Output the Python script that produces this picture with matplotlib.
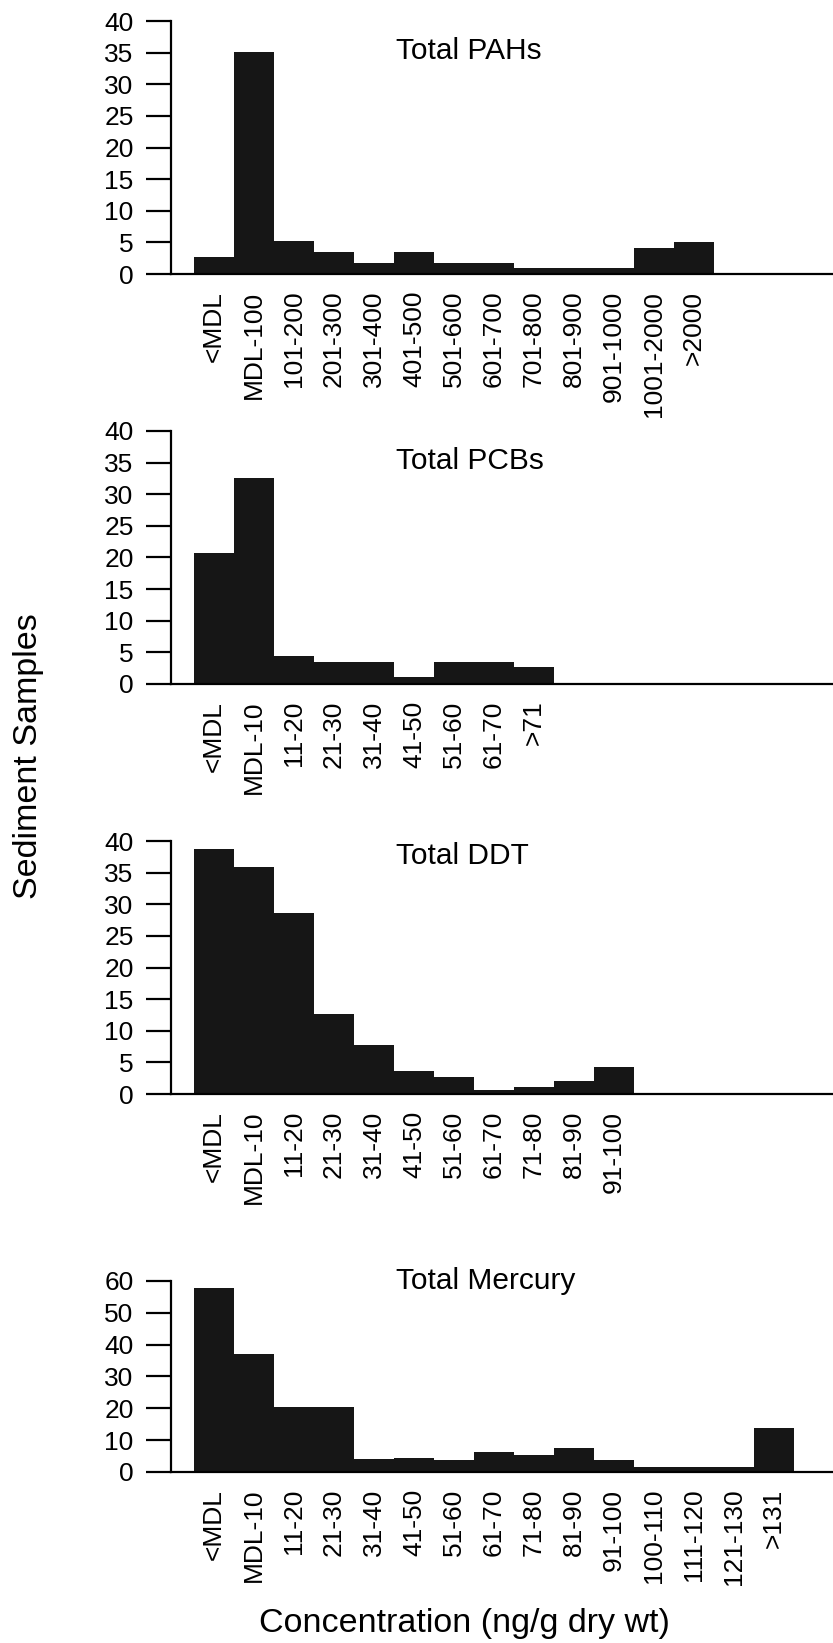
import matplotlib
matplotlib.use("Agg")
import matplotlib.pyplot as plt

plt.rcParams['font.family'] = ['Liberation Sans', 'DejaVu Sans']

# Data (sample counts per concentration bin)
pah_labels = ['<MDL', 'MDL-100', '101-200', '201-300', '301-400', '401-500', '501-600',
              '601-700', '701-800', '801-900', '901-1000', '1001-2000', '>2000']
pah_counts = [2.7, 35.1, 5.2, 3.5, 1.7, 3.5, 1.7, 1.7, 0.9, 0.9, 0.9, 4.1, 5.1]

pcb_labels = ['<MDL', 'MDL-10', '11-20', '21-30', '31-40', '41-50', '51-60', '61-70', '>71']
pcb_counts = [20.7, 32.6, 4.5, 3.5, 3.5, 1.1, 3.5, 3.5, 2.7]

ddt_labels = ['<MDL', 'MDL-10', '11-20', '21-30', '31-40', '41-50', '51-60', '61-70',
              '71-80', '81-90', '91-100']
ddt_counts = [38.7, 35.9, 28.6, 12.7, 7.7, 3.6, 2.7, 0.7, 1.1, 2.0, 4.3]

hg_labels = ['<MDL', 'MDL-10', '11-20', '21-30', '31-40', '41-50', '51-60', '61-70',
             '71-80', '81-90', '91-100', '100-110', '111-120', '121-130', '>131']
hg_counts = [57.8, 37.1, 20.3, 20.3, 4.1, 4.5, 3.8, 6.4, 5.3, 7.4, 3.7, 1.7, 1.7, 1.7, 13.7]

panels = [
    ("Total PAHs", pah_labels, pah_counts, 40, 5, 0.85),
    ("Total PCBs", pcb_labels, pcb_counts, 40, 5, 0.85),
    ("Total DDT", ddt_labels, ddt_counts, 40, 5, 0.91),
    ("Total Mercury", hg_labels, hg_counts, 60, 10, 0.958),
]

# axes boxes in figure fractions [left, bottom, width, height]
boxes = [
    [0.2053, 0.8332, 0.7947, 0.1540],
    [0.2053, 0.5837, 0.7947, 0.1540],
    [0.2053, 0.3341, 0.7947, 0.1540],
    [0.2053, 0.1041, 0.7947, 0.1163],
]

fig = plt.figure(figsize=(8.33, 16.43), dpi=100)

for (title, labels, counts, ymax, step, ty), box in zip(panels, boxes):
    ax = fig.add_axes(box)
    x = list(range(len(labels)))
    ax.bar(x, counts, width=1.0, color='#161616', edgecolor='none')
    ax.set_xlim(-1.075, 15.475)
    ax.set_ylim(0, ymax)
    ax.set_yticks(range(0, ymax + 1, step))
    ax.set_xticks(x)
    ax.set_xticklabels(labels, rotation=90)
    ax.spines['top'].set_visible(False)
    ax.spines['right'].set_visible(False)
    ax.spines['left'].set_linewidth(1.6)
    ax.spines['bottom'].set_linewidth(1.6)
    ax.tick_params(axis='y', direction='out', length=18, width=1.6, pad=9, labelsize=19)
    ax.tick_params(axis='x', length=0, pad=12, labelsize=19)
    ax.text(0.34, ty, title, transform=ax.transAxes, ha='left', va='baseline', fontsize=21.5)

fig.text(0.034, 0.540, "Sediment Samples", rotation=90, ha='center', va='center', fontsize=24.5)
fig.text(0.558, 0.0067, "Concentration (ng/g dry wt)", ha='center', va='baseline', fontsize=24.5)

fig.savefig("out.png", dpi=100)
